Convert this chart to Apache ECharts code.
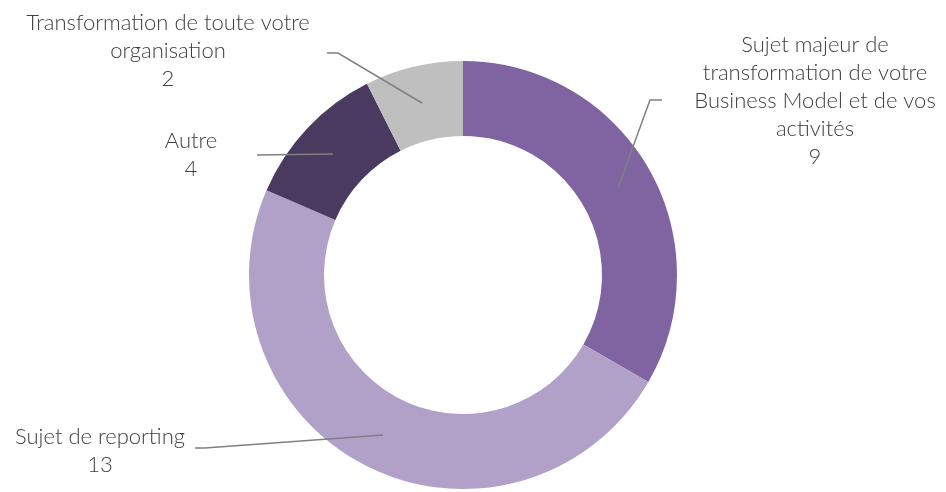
<!DOCTYPE html>
<html>
<head>
<meta charset="utf-8">
<script src="https://cdn.jsdelivr.net/npm/echarts@6/dist/echarts.min.js"></script>
<style>html,body{margin:0;padding:0;background:#fff;}#c{width:946px;height:492px;}</style>
</head>
<body>
<div id="c"></div>
<script>
const categories = [
  "Sujet majeur de\ntransformation de votre\nBusiness Model et de vos\nactivités",
  "Sujet de reporting",
  "Autre",
  "Transformation de toute votre\norganisation"
];
// slice sizes as drawn in the reference (the "Autre" slice is drawn as 3/27)
const values = [9, 13, 3, 2];
// value labels as printed in the reference
const valueLabels = ["9", "13", "4", "2"];
const colors = ["#8064A2", "#B1A0C7", "#4B3A60", "#BFBFBF"];

// label anchor and leader line layout (pixels)
const labelPos = [
  {x: 815, y: 101, line: [[618, 188], [650, 100], [662, 100]]},
  {x: 100, y: 451, line: [[383, 435], [205, 448], [195, 448]]},
  {x: 191, y: 155, line: [[333, 154], [257, 155]]},
  {x: 168, y: 51, line: [[422, 103], [338, 53], [327, 53]]}
];

const base = {
  type: 'pie',
  center: [463, 275],
  radius: [139, 214],
  startAngle: 90,
  clockwise: true,
  avoidLabelOverlap: false,
  emphasis: {disabled: true},
  silent: true
};

const chart = echarts.init(document.getElementById('c'), null, {renderer: 'canvas'});
chart.setOption({
  animation: false,
  series: [
    Object.assign({}, base, {
      z: 2,
      data: categories.map((n, i) => ({name: n, value: values[i], itemStyle: {color: colors[i]}})),
      itemStyle: {borderWidth: 0},
      label: {show: false},
      labelLine: {show: false}
    }),
    Object.assign({}, base, {
      z: 5,
      data: categories.map((n, i) => ({name: n, value: values[i]})),
      itemStyle: {color: 'rgba(0,0,0,0)', borderWidth: 0},
      label: {
        show: true,
        formatter: p => p.name + '\n' + valueLabels[p.dataIndex],
        fontFamily: 'Lato',
        fontWeight: 300,
        fontSize: 22,
        lineHeight: 28,
        color: '#404040',
        align: 'center'
      },
      labelLine: {
        show: true,
        showAbove: true,
        lineStyle: {color: '#808080', width: 1.5}
      },
      labelLayout: function (p) {
        const l = labelPos[p.dataIndex];
        return {x: l.x, y: l.y, align: 'center', verticalAlign: 'middle', labelLinePoints: l.line};
      }
    })
  ]
});
</script>
</body>
</html>
